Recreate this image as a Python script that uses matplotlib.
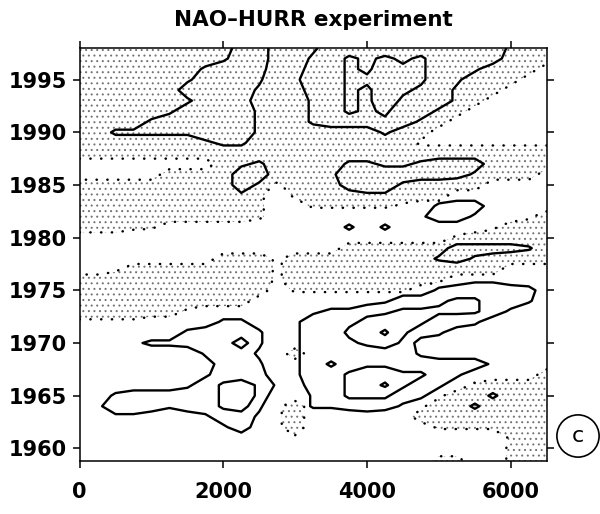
import numpy as np
import matplotlib
matplotlib.use("Agg")
import matplotlib.pyplot as plt

# grid: x every 250 units, one row per year
x_vals = np.arange(0, 6501, 250)
years = np.arange(1958, 1999)

# field drawn with solid contours (levels 2.5, 5.5, 8.5)
# one row per year, written from 1998 (top) down to 1958, one digit per x column
field_rows = [
    "111111111441124444444444211",  # 1998
    "111111112441134656564444111",
    "111111134440144657664431111",
    "111111244430244667764311111",  # 1995
    "111111444421144657654211111",
    "111111244411134657544211111",
    "111112444421134656442111111",
    "111134444421134445421111111",
    "113333344421111113111111111",  # 1990
    "111111123311111111111111111",
    "111111111111111111111111111",
    "111111111231111332234441111",
    "111111111441112444444421111",
    "111111111421111444211011111",  # 1985
    "111111111211111122111111111",
    "111111111111111111113441111",
    "111111111111111111124421111",
    "111111111111111313111111111",
    "111111111111111111111000001",  # 1980
    "111111111111111111111444430",
    "111111111111111111113421001",
    "111111111111111111110011111",
    "111111111111111111111122101",
    "111111111111111111113444440",  # 1975
    "111111111111111112445664430",
    "111111111111123355666664201",
    "111111113311244567764431111",
    "111111344430244679643111111",
    "111233444730244567511111111",  # 1970
    "111111034420244444421111111",
    "111111114430246455444442111",
    "111111124440244677664311111",
    "111111246752144679643111111",
    "113444446750034666431113111",  # 1965
    "124443446730033444211131111",
    "112210124420100010111111111",
    "111111112411111111111111111",
    "111111111111111111111111111",
    "111111111111111111111111111",  # 1960
    "111111111111111111111111111",
    "111111111111111111111111111",  # 1958
]

# stippled field (stipple where value > 2.5), same layout
stipple_rows = [
    "444444444444444444444444444",  # 1998
    "444444444444444444444444444",
    "444444444444444444444444441",
    "444444444444444444444444411",  # 1995
    "444444444444444444444444111",
    "444444444444444444444441111",
    "444444444444444444444411111",
    "444444444444444444444111111",
    "444444444444444444441111111",  # 1990
    "444444444444444444422222222",
    "444444444444444444444444444",
    "111111114444444444444444444",
    "111114444444444444444444441",
    "444444444442444444444441111",  # 1985
    "444444444431344444444111111",
    "444444444431133333211111111",
    "444444444431100000111111124",
    "444331111111111111111112444",
    "111101111111111111111344444",  # 1980
    "111111111111111444444444444",
    "111111114442444444444444444",
    "112444444442444444444444111",
    "444444444442444444443111111",
    "444444444441333333311111111",  # 1975
    "444444444411000000011111111",
    "444444211111111111111111111",
    "222211111111111111111111111",
    "111111111111111111111111111",
    "111111111111111111111111111",  # 1970
    "111111111111411111111111111",
    "111111111111111111111111111",
    "111111111111111111111111114",
    "111111111111111111111134444",
    "111111111111111111112444444",  # 1965
    "111111111112411111124444444",
    "111111111112411111144444444",
    "111111111112411111113333444",
    "111111111111211111110000344",
    "111111111111111111111111344",  # 1960
    "111111111111111111113311344",
    "111111111111111111114411444",  # 1958
]

y_ticks = [1960, 1965, 1970, 1975, 1980, 1985, 1990, 1995]
x_ticks = [0, 2000, 4000, 6000]


def to_grid(rows):
    # rows are listed top to bottom, contour wants bottom to top
    return np.array([[int(c) for c in r] for r in rows[::-1]], dtype=float)


Z = to_grid(field_rows)
S = to_grid(stipple_rows)

plt.rcParams['font.family'] = 'DejaVu Sans'
plt.rcParams['font.weight'] = 'bold'
plt.rcParams['hatch.color'] = '0.45'
plt.rcParams['hatch.linewidth'] = 0.7

fig = plt.figure(figsize=(6, 5.14), dpi=100)
ax = fig.add_axes([0.1327, 0.1031, 0.7785, 0.8035])

# stippled areas and their dotted outlines
ax.contourf(x_vals, years, S, levels=[2.5, 10], colors='none', hatches=['...'])
edge = ax.contour(x_vals, years, S, levels=[2.5], colors='k', linewidths=1.8,
                  linestyles=[(0, (0.1, 4.2))])
edge.set_capstyle('round')

# solid contours
ax.contour(x_vals, years, Z, levels=[2.5, 5.5, 8.5], colors='k', linewidths=1.7)

ax.set_xlim(0, 6500)
ax.set_ylim(1958.8, 1998)
ax.set_xticks(x_ticks)
ax.set_yticks(y_ticks)
ax.tick_params(direction='out', length=5, width=1.1, top=True, right=True,
               labelsize=15)
ax.tick_params(axis='x', pad=10)
ax.tick_params(axis='y', pad=4)
for sp in ax.spines.values():
    sp.set_linewidth(1.1)

ax.set_title('NAO\u2013HURR experiment', fontsize=15.5, fontweight='bold', pad=16)

fig.text(578 / 600, 1 - 436 / 514, 'c', fontsize=16, fontweight='normal',
         ha='center', va='center',
         bbox=dict(boxstyle='circle,pad=0.5', fc='white', ec='k', lw=1.2))

fig.savefig('out.png', dpi=100)
